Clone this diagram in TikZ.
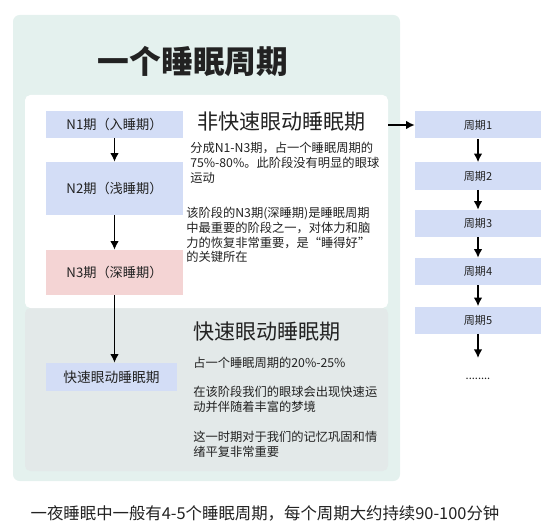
\documentclass[tikz,border=0pt]{standalone}
\usepackage{fontspec}
\setmainfont{Noto Sans CJK SC}
\usepackage{xcolor}
\usetikzlibrary{arrows.meta,positioning}

\definecolor{panelgreen}{HTML}{E4F1EE}
\definecolor{remgray}{HTML}{E3E9E9}
\definecolor{stageblue}{HTML}{D3DDF6}
\definecolor{stagered}{HTML}{F4D4D4}
\definecolor{inkgray}{HTML}{222222}

\begin{document}
\begin{tikzpicture}[x=0.75pt, y=-0.75pt, text=inkgray,
    stage/.style={rectangle, fill=stageblue, minimum width=102.75pt, inner sep=0pt, font=\fontsize{9.9}{11}\selectfont},
    cycle/.style={rectangle, fill=stageblue, minimum width=94.5pt, minimum height=20.25pt, inner sep=0pt, font=\fontsize{8.3}{10}\selectfont},
    flow/.style={-{Latex[length=6.5pt,width=6.5pt]}, line width=1.2pt},
    heading/.style={anchor=west, inner sep=0pt, font=\fontsize{15.8}{18}\selectfont},
    note/.style={anchor=north west, inner sep=0pt, align=left, font=\fontsize{9.2}{11.2}\selectfont}]
        \useasboundingbox (0,0) rectangle (542,531);

        % panels
        \fill[panelgreen, rounded corners=5pt] (13,15) rectangle (400,481);
        \node[fill=remgray, rounded corners=4pt, minimum width=272.25pt, minimum height=122.25pt, inner sep=0pt] (rem) at (206.5,389.5) {};
        \node[fill=white, rounded corners=4pt, minimum width=272.25pt, minimum height=159.75pt, inner sep=0pt] (nrem) at (206.5,201.5) {};

        \node[font=\fontsize{23.8}{26}\selectfont\bfseries] (title) at (193,61) {一个睡眠周期};

        % stages
        \node[stage, minimum height=20.25pt] (n1) at (114.5,124.5) {N1期（入睡期）};
        \node[stage, minimum height=39.75pt] (n2) at (114.5,188.5) {N2期（浅睡期）};
        \node[stage, minimum height=33.75pt, fill=stagered] (n3) at (114.5,272.5) {N3期（深睡期）};
        \node[stage, minimum width=98.25pt, minimum height=21pt, font=\fontsize{10.3}{12}\selectfont] (remstage) at (111.5,377) {快速眼动睡眠期};

        \draw[flow] (n1) -- (n2);
        \draw[flow] (n2) -- (n3);
        \draw[flow] (n3.south) -- (n3.south |- remstage.north);

        % descriptions
        \node[heading] (nremhead) at (197,122) {非快速眼动睡眠期};
        \node[note] (nremtxt1) at (190,142) {分成N1-N3期，占一个睡眠周期的\\75\%-80\%。此阶段没有明显的眼球\\运动};
        \node[note] (nremtxt2) at (186,206.5) {该阶段的N3期(深睡期)是睡眠周期\\中最重要的阶段之一，对体力和脑\\力的恢复非常重要，是“睡得好”\\的关键所在};

        \node[heading] (remhead) at (193,332) {快速眼动睡眠期};
        \node[note] (remtxt1) at (193,356.5) {占一个睡眠周期的20\%-25\%};
        \node[note] (remtxt2) at (193,385.5) {在该阶段我们的眼球会出现快速运\\动并伴随着丰富的梦境};
        \node[note] (remtxt3) at (193,430.5) {这一时期对于我们的记忆巩固和情\\绪平复非常重要};

        % cycles
        \node[cycle] (c1) at (478,125) {周期1};
        \node[cycle] (c2) at (478,176) {周期2};
        \node[cycle] (c3) at (478,223.5) {周期3};
        \node[cycle] (c4) at (478,271.5) {周期4};
        \node[cycle] (c5) at (478,320) {周期5};
        \coordinate (cend) at (478,358);
        \node[font=\fontsize{8.3}{10}\selectfont] (dots) at (478,379) {........};

        \draw[flow] (c1.west -| nrem.east) -- (c1.west);
        \draw[flow] (c1) -- (c2);
        \draw[flow] (c2) -- (c3);
        \draw[flow] (c3) -- (c4);
        \draw[flow] (c4) -- (c5);
        \draw[flow] (c5.south) -- (cend);

        \node[font=\fontsize{12.3}{14}\selectfont] (summary) at (265,513) {一夜睡眠中一般有4-5个睡眠周期，每个周期大约持续90-100分钟};
    \end{tikzpicture}
\end{document}
